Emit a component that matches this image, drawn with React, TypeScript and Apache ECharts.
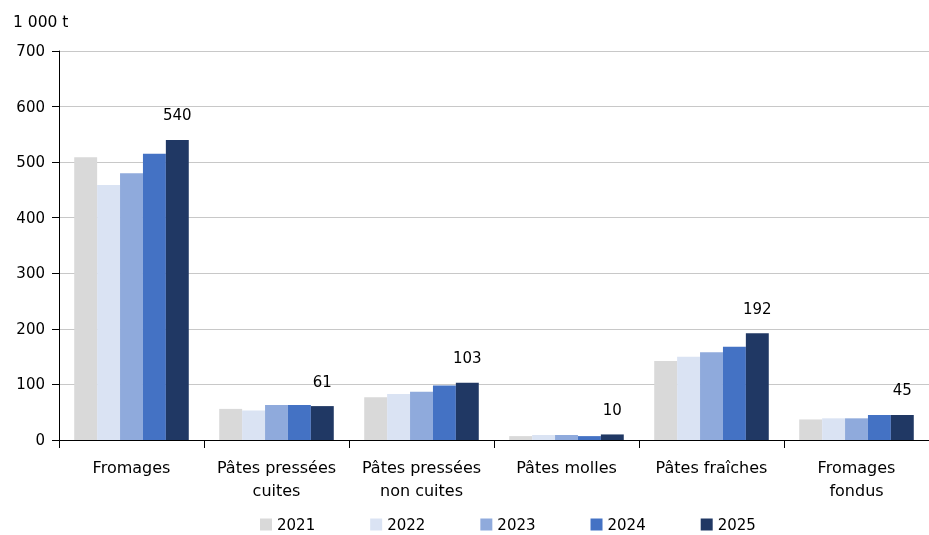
import React, { useEffect, useRef } from "react";
import * as echarts from "echarts";

const categories = [
  "Fromages",
  "Pâtes pressées\ncuites",
  "Pâtes pressées\nnon cuites",
  "Pâtes molles",
  "Pâtes fraîches",
  "Fromages\nfondus",
];
const years = ["2021", "2022", "2023", "2024", "2025"];
const v2021 = [509, 56, 77, 7, 142, 37];
const v2022 = [459, 53, 83, 9, 150, 39];
const v2023 = [480, 63, 87, 9, 158, 39];
const v2024 = [515, 63, 98, 7, 168, 45];
const v2025 = [540, 61, 103, 10, 192, 45];
const yTicks = [0, 100, 200, 300, 400, 500, 600, 700];
const colors = ["#d9d9d9", "#dae3f3", "#8faadc", "#4472c4", "#203864"];

export default function App() {
  const ref = useRef<HTMLDivElement>(null);
  useEffect(() => {
    const chart = echarts.init(ref.current!, null, { renderer: "svg" });
    const font = "'DejaVu Sans', sans-serif";
    const all = [v2021, v2022, v2023, v2024, v2025];
    chart.setOption({
      animation: false,
      textStyle: { fontFamily: font },
      grid: { left: 59, top: 51, width: 877, height: 389, containLabel: false },
      graphic: [
        {
          type: "text",
          left: 13,
          top: 14,
          style: { text: "1 000 t", fontSize: 15.5, fill: "#000", fontFamily: font },
        },
      ],
      legend: {
        left: 260,
        top: 517,
        padding: 0,
        itemWidth: 12,
        itemHeight: 12,
        itemGap: 55,
        icon: "rect",
        textStyle: { fontSize: 15, color: "#000", fontFamily: font },
        data: years,
      },
      xAxis: {
        type: "category",
        data: categories,
        axisLine: { lineStyle: { color: "#000", width: 1 } },
        axisTick: { show: true, length: 8, interval: 0, lineStyle: { color: "#000" } },
        axisLabel: { fontSize: 16, interval: 0, color: "#000", margin: 16, lineHeight: 23, fontFamily: font },
      },
      yAxis: {
        type: "value",
        min: yTicks[0],
        max: yTicks[yTicks.length - 1],
        interval: 100,
        axisLine: { show: true, lineStyle: { color: "#000" } },
        axisTick: { show: true, length: 7, lineStyle: { color: "#000" } },
        axisLabel: { fontSize: 15, color: "#000", margin: 14, fontFamily: font },
        splitLine: { lineStyle: { color: "#c8c8c8", width: 1 } },
      },
      series: years.map((y, i) => ({
        name: y,
        type: "bar",
        data: all[i],
        barGap: "0%",
        barCategoryGap: "21%",
        itemStyle: { color: colors[i] },
        label:
          i === 4
            ? { show: true, position: "top", distance: 17, fontSize: 15, color: "#000", fontFamily: font }
            : { show: false },
      })),
    });
    return () => chart.dispose();
  }, []);
  return (
    <div
      ref={ref}
      style={{ position: "fixed", left: 0, top: 0, width: 929, height: 535 }}
    />
  );
}
